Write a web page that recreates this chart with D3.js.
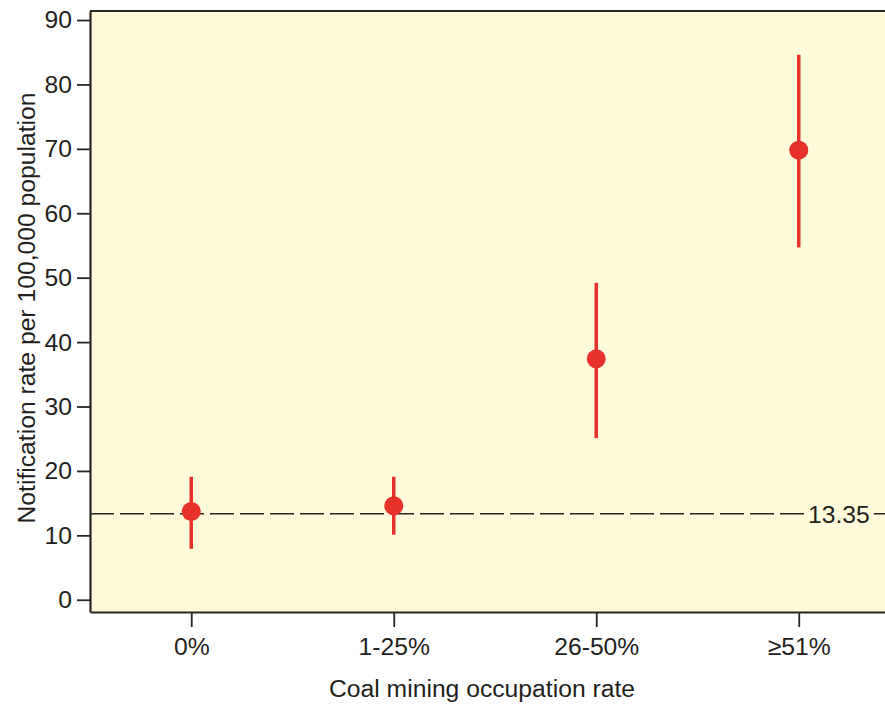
<!DOCTYPE html>
<html>
<head>
<meta charset="utf-8">
<script src="https://cdn.jsdelivr.net/npm/d3@7"></script>
<style>
  body { margin: 0; background: #fff; }
  text { font-family: "Liberation Sans", Arial, sans-serif; fill: #231f1c; }
</style>
</head>
<body>
<svg width="885" height="706"></svg>
<script>
// data
var categories = ["0%", "1-25%", "26-50%", "\u226551%"];
var rates = [13.7, 14.6, 37.4, 69.8];
var lower = [7.9, 10.1, 25.1, 54.7];
var upper = [19.1, 19.1, 49.2, 84.6];
var refValue = 13.35;
var yTicks = [0, 10, 20, 30, 40, 50, 60, 70, 80, 90];
var yExtent = [-1.9, 91.4];

var data = categories.map(function(c, i) {
  return {cat: c, rate: rates[i], lo: lower[i], hi: upper[i]};
});

var svg = d3.select("svg"),
    margin = {top: 11, left: 90, bottom: 94},
    width = 810,
    height = svg.attr("height") - margin.top - margin.bottom;

var fs = 24.7;

var x = d3.scalePoint()
    .domain(categories)
    .range([0, width])
    .padding(0.5);

var y = d3.scaleLinear()
    .domain(yExtent)
    .range([height, 0]);

var g = svg.append("g")
    .attr("transform", "translate(" + margin.left + "," + margin.top + ")");

// panel background
g.append("rect")
    .attr("width", width)
    .attr("height", height)
    .attr("fill", "#fffad9");

// axes
var yAxis = g.append("g")
    .call(d3.axisLeft(y).tickValues(yTicks).tickSize(13).tickPadding(5).tickSizeOuter(0));

var xAxis = g.append("g")
    .attr("transform", "translate(0," + height + ")")
    .call(d3.axisBottom(x).tickSize(15).tickPadding(10).tickSizeOuter(0));

[yAxis, xAxis].forEach(function(a) {
  a.attr("font-size", fs).attr("font-family", "'Liberation Sans', Arial, sans-serif");
  a.select(".domain").attr("stroke", "#2b2520").attr("stroke-width", 2.2);
  a.selectAll(".tick line").attr("stroke", "#2b2520").attr("stroke-width", 1.8);
  a.selectAll(".tick text").attr("fill", "#231f1c");
});

// top frame line
g.append("line")
    .attr("x1", 0).attr("x2", width)
    .attr("y1", 0).attr("y2", 0)
    .attr("stroke", "#2b2520")
    .attr("stroke-width", 2.2);

// reference line with label
var refY = y(refValue);
g.append("line")
    .attr("x1", 0).attr("x2", width)
    .attr("y1", refY).attr("y2", refY)
    .attr("stroke", "#2b2520")
    .attr("stroke-width", 1.6)
    .attr("stroke-dasharray", "24,6");

var labBg = g.append("rect").attr("fill", "#fffad9");
var lab = g.append("text")
    .attr("x", 718)
    .attr("y", refY)
    .attr("dy", "0.36em")
    .attr("font-size", fs)
    .text(d3.format(".2f")(refValue));
var bb = lab.node().getBBox();
labBg.attr("x", bb.x - 4).attr("y", refY - 4)
    .attr("width", bb.width + 8).attr("height", 8);

// error bars
g.selectAll(".err").data(data).enter().append("line")
    .attr("class", "err")
    .attr("x1", d => x(d.cat)).attr("x2", d => x(d.cat))
    .attr("y1", d => y(d.lo)).attr("y2", d => y(d.hi))
    .attr("stroke", "#e6322b")
    .attr("stroke-width", 3.5);

// points
g.selectAll(".pt").data(data).enter().append("circle")
    .attr("class", "pt")
    .attr("cx", d => x(d.cat))
    .attr("cy", d => y(d.rate))
    .attr("r", 9.5)
    .attr("fill", "#e6322b");

// axis titles
svg.append("text")
    .attr("x", 482)
    .attr("y", 697)
    .attr("text-anchor", "middle")
    .attr("font-size", fs)
    .text("Coal mining occupation rate");

svg.append("text")
    .attr("transform", "translate(35,308) rotate(-90)")
    .attr("text-anchor", "middle")
    .attr("font-size", fs)
    .text("Notification rate per 100,000 population");
</script>
</body>
</html>
